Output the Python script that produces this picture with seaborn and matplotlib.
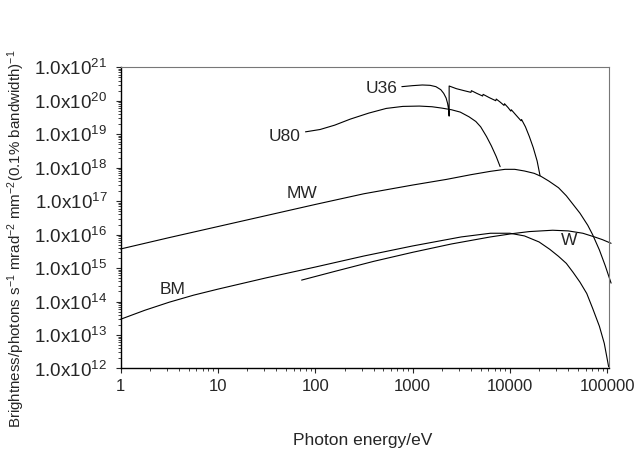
import matplotlib
matplotlib.use("Agg")
import matplotlib.pyplot as plt
import matplotlib.ticker as mticker
import numpy as np
import pandas as pd
import seaborn as sns

# ── curve data (log10 photon energy / log10 brightness) ──
mw_log_e = [0, 0.5, 1.0, 1.5, 2.0, 2.5, 3.0, 3.35, 3.6, 3.8, 3.95, 4.05, 4.15, 4.25,
            4.32, 4.4, 4.5, 4.58, 4.65, 4.72, 4.8, 4.85, 4.92, 4.98, 5.04]
mw_log_b = [15.57, 15.91, 16.24, 16.57, 16.9, 17.22, 17.48, 17.65, 17.79, 17.89, 17.95, 17.95,
            17.9, 17.83, 17.74, 17.6, 17.4, 17.16, 16.9, 16.64, 16.28, 16.0, 15.54, 15.07, 14.55]

bm_log_e = [0, 0.25, 0.5, 0.75, 1.0, 1.5, 2.0, 2.5, 3.0, 3.5, 3.8, 4.0, 4.15, 4.3, 4.41,
            4.5, 4.58, 4.65, 4.72, 4.79, 4.85, 4.92, 4.97, 5.015]
bm_log_b = [13.47, 13.74, 13.98, 14.19, 14.37, 14.71, 15.03, 15.36, 15.66, 15.93, 16.04, 16.04,
            15.96, 15.78, 15.56, 15.35, 15.14, 14.87, 14.58, 14.24, 13.8, 13.26, 12.75, 12.05]

w_log_e = [1.86, 2.2, 2.6, 3.0, 3.4, 3.8, 4.03, 4.2, 4.44, 4.6, 4.75, 4.87, 4.95, 5.04]
w_log_b = [14.64, 14.9, 15.2, 15.47, 15.72, 15.93, 16.03, 16.09, 16.13, 16.11, 16.04, 15.93,
           15.85, 15.74]

u80_log_e = [1.90, 2.05, 2.2, 2.36, 2.55, 2.73, 2.9, 3.07, 3.2, 3.3, 3.4, 3.49, 3.58, 3.65,
             3.7, 3.76, 3.81, 3.86, 3.90]
u80_log_b = [19.07, 19.14, 19.27, 19.45, 19.63, 19.77, 19.83, 19.84, 19.82, 19.78, 19.73, 19.66,
             19.52, 19.38, 19.22, 18.93, 18.65, 18.33, 18.03]

u36_log_e = [2.89, 3.0, 3.1, 3.18, 3.24, 3.29, 3.32, 3.345, 3.36, 3.37, 3.376, 3.376,
             3.45, 3.53, 3.60, 3.605, 3.66, 3.72, 3.725, 3.79, 3.855, 3.86, 3.90, 3.94, 3.945,
             3.98, 4.01, 4.015, 4.06, 4.115, 4.12, 4.16, 4.20, 4.24, 4.28, 4.31]
u36_log_b = [20.42, 20.45, 20.47, 20.46, 20.42, 20.33, 20.22, 20.08, 19.92, 19.75, 19.54, 20.44,
             20.36, 20.30, 20.25, 20.30, 20.22, 20.14, 20.19, 20.09, 20.0, 20.05, 19.96, 19.86,
             19.91, 19.8, 19.69, 19.73, 19.58, 19.40, 19.44, 19.22, 18.93, 18.6, 18.2, 17.76]

# curve labels: (text, log10 E, log10 B)
labels = [("U36", 2.68, 20.37), ("U80", 1.69, 18.92), ("MW", 1.86, 17.23),
          ("BM", 0.53, 14.36), ("W", 4.61, 15.81)]

y_exponents = list(range(12, 22))
x_ticks = [1, 10, 100, 1000, 10000, 100000]

# ── style ──
sns.set_style("ticks")
plt.rcParams.update({
    "font.family": ["Liberation Sans", "DejaVu Sans"],
    "mathtext.fontset": "custom",
    "mathtext.rm": "Liberation Sans",
    "mathtext.it": "Liberation Sans:italic",
    "mathtext.bf": "Liberation Sans:bold",
    "font.size": 12,
})

fig, ax = plt.subplots(figsize=(6.38, 4.67), dpi=100)
fig.subplots_adjust(left=0.189, right=0.954, top=0.856, bottom=0.211)
ax.set_xscale("log")
ax.set_yscale("log")

curves = [(mw_log_e, mw_log_b), (bm_log_e, bm_log_b), (w_log_e, w_log_b),
          (u80_log_e, u80_log_b), (u36_log_e, u36_log_b)]
for log_e, log_b in curves:
    df = pd.DataFrame({"energy": np.power(10.0, log_e), "brightness": np.power(10.0, log_b)})
    sns.lineplot(data=df, x="energy", y="brightness", ax=ax, color="black", linewidth=0.8,
                 sort=False, estimator=None, clip_on=False)

for text, le, lb in labels:
    ax.text(10 ** le, 10 ** lb, text, ha="center", va="center", fontsize=12.5)

ax.set_xlim(1, 10 ** 5.015)
ax.set_ylim(1e12, 1e21)

ax.xaxis.set_major_locator(mticker.FixedLocator(x_ticks))
ax.xaxis.set_major_formatter(mticker.FixedFormatter([str(v) for v in x_ticks]))
ax.xaxis.set_minor_locator(mticker.LogLocator(base=10, subs=np.arange(2, 10), numticks=100))
ax.yaxis.set_major_locator(mticker.FixedLocator([10.0 ** k for k in y_exponents]))
ax.yaxis.set_major_formatter(mticker.FixedFormatter([f"1.0x10$^{{{k}}}$" for k in y_exponents]))
ax.yaxis.set_minor_locator(mticker.LogLocator(base=10, subs=np.arange(2, 10), numticks=100))
ax.xaxis.set_minor_formatter(mticker.NullFormatter())
ax.yaxis.set_minor_formatter(mticker.NullFormatter())

ax.tick_params(which="major", direction="out", length=3.5, width=0.8, pad=4)
ax.tick_params(axis="x", which="major", labelsize=12)
ax.tick_params(axis="y", which="major", labelsize=13.6, pad=6)
ax.tick_params(which="minor", direction="out", length=2, width=0.6)

for side in ("left", "bottom"):
    ax.spines[side].set_color("black")
    ax.spines[side].set_linewidth(1.0)
for side in ("top", "right"):
    ax.spines[side].set_visible(True)
    ax.spines[side].set_color("#777777")
    ax.spines[side].set_linewidth(0.8)

ax.set_xlabel("Photon energy/eV", fontsize=12.5)
ax.xaxis.set_label_coords(0.497, -0.215)
ax.set_ylabel(r"Brightness/photons s$^{-1}$ mrad$^{-2}$ mm$^{-2}$(0.1% bandwidth)$^{-1}$",
              fontsize=10.9)
ax.yaxis.set_label_coords(-0.192, 0.43)

fig.savefig("out.png", dpi=100)
